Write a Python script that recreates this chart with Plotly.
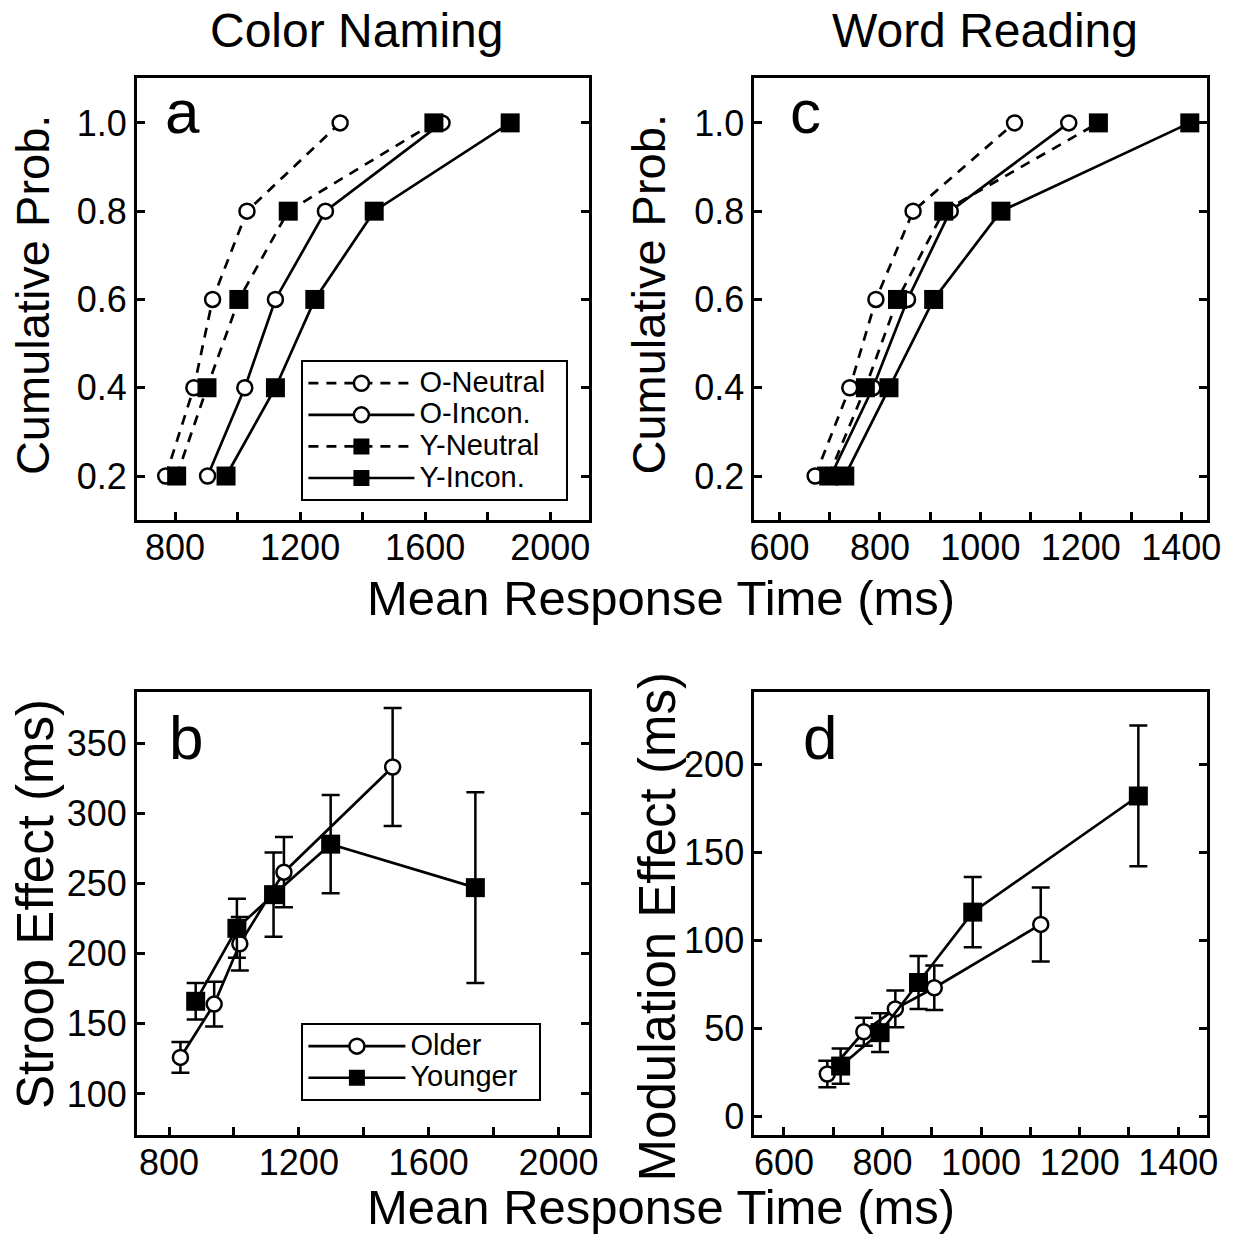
import plotly.graph_objects as go

# ---------------- data ----------------
probs = [0.2, 0.4, 0.6, 0.8, 1.0]

# Color naming (panel a): mean RT per quantile
cn_o_neutral = [770, 860, 920, 1030, 1328]
cn_o_incon = [904, 1023, 1121, 1281, 1654]
cn_y_neutral = [805, 902, 1004, 1162, 1628]
cn_y_incon = [963, 1121, 1247, 1437, 1872]

# Word reading (panel c)
wr_o_neutral = [671, 740, 792, 866, 1068]
wr_o_incon = [702, 786, 855, 940, 1176]
wr_y_neutral = [698, 771, 835, 927, 1235]
wr_y_incon = [730, 818, 907, 1041, 1417]

# Stroop effect (panel b)
stroop_older_rt = [835, 939, 1018, 1154, 1489]
stroop_older = [126, 164, 207, 258, 333]
stroop_older_err = [11, 16, 19, 25, 42]
stroop_younger_rt = [882, 1009, 1122, 1298, 1744]
stroop_younger = [166, 218, 242, 278, 247]
stroop_younger_err = [13, 21, 30, 35, 68]

# Modulation effect (panel d)
mod_older_rt = [688, 762, 826, 905, 1121]
mod_older = [24, 48, 61, 73, 109]
mod_older_err = [7.5, 8, 10.5, 12.7, 21]
mod_younger_rt = [715, 795, 873, 983, 1319]
mod_younger = [28.5, 47.5, 76, 116, 182]
mod_younger_err = [10, 11, 15, 20, 40]

# ---------------- styles ----------------
FONT = "Liberation Sans, Arial, Helvetica, sans-serif"
LW = 2.7
DASH = "10px,8px"
open_circle = dict(symbol="circle", size=15, color="white", line=dict(color="black", width=2.5))
filled_square = dict(symbol="square", size=19, color="black", line=dict(color="black", width=0))

FW, FH = 1244, 1241


def px(x):
    return x / FW


def py(y):
    return 1 - y / FH


def legname(t):
    return "<span style='font-size:29px'>" + t + "\u00a0\u00a0</span>"


fig = go.Figure()


def add_cdf(x, name, xa, ya, marker, dash, show):
    fig.add_trace(go.Scatter(
        x=x, y=probs, mode="lines+markers", name=legname(name),
        xaxis=xa, yaxis=ya, marker=marker,
        line=dict(color="black", width=LW, dash=dash),
        showlegend=show, legend="legend", cliponaxis=False))


# panel a
add_cdf(cn_o_neutral, "O-Neutral", "x", "y", open_circle, DASH, True)
add_cdf(cn_o_incon, "O-Incon.", "x", "y", open_circle, "solid", True)
add_cdf(cn_y_neutral, "Y-Neutral", "x", "y", filled_square, DASH, True)
add_cdf(cn_y_incon, "Y-Incon.", "x", "y", filled_square, "solid", True)
# panel c
add_cdf(wr_o_neutral, "O-Neutral", "x2", "y2", open_circle, DASH, False)
add_cdf(wr_o_incon, "O-Incon.", "x2", "y2", open_circle, "solid", False)
add_cdf(wr_y_neutral, "Y-Neutral", "x2", "y2", filled_square, DASH, False)
add_cdf(wr_y_incon, "Y-Incon.", "x2", "y2", filled_square, "solid", False)


def add_eff(x, y, err, name, xa, ya, marker, show):
    fig.add_trace(go.Scatter(
        x=x, y=y, mode="lines+markers", name=legname(name),
        xaxis=xa, yaxis=ya, marker=marker,
        line=dict(color="black", width=LW),
        error_y=dict(type="data", array=err, visible=True, color="black", thickness=2.5, width=9),
        showlegend=show, legend="legend2", cliponaxis=False))


add_eff(stroop_older_rt, stroop_older, stroop_older_err, "Older", "x3", "y3", open_circle, True)
add_eff(stroop_younger_rt, stroop_younger, stroop_younger_err, "Younger", "x3", "y3", filled_square, True)
add_eff(mod_older_rt, mod_older, mod_older_err, "Older", "x4", "y4", open_circle, False)
add_eff(mod_younger_rt, mod_younger, mod_younger_err, "Younger", "x4", "y4", filled_square, False)

# ---------------- axes ----------------
L_DOM = [px(134), px(593)]
R_DOM = [px(761), px(1220.5)]
T_DOM = [py(521), py(78)]
B_DOM = [py(1136.7), py(693.3)]

TICKFONT = dict(size=36, color="black", family=FONT)


def xaxis(dom, rng, anchor, tick0, dtick, mdtick):
    return dict(domain=dom, range=rng, anchor=anchor, showline=True, linewidth=3,
                linecolor="black", mirror=True, ticks="inside", ticklen=8, tickwidth=2.5,
                tickcolor="black", tick0=tick0, dtick=dtick, showgrid=False, zeroline=False,
                tickfont=TICKFONT, ticklabelstandoff=-6,
                minor=dict(ticks="inside", tick0=tick0, dtick=mdtick, ticklen=8,
                           tickwidth=2.5, tickcolor="black", showgrid=False),
                fixedrange=True)


def yaxis(dom, rng, anchor, tick0, dtick, fmt=None):
    d = dict(domain=dom, range=rng, anchor=anchor, showline=True, linewidth=3,
             linecolor="black", mirror="ticks", ticks="inside", ticklen=8, tickwidth=2.5,
             tickcolor="black", tick0=tick0, dtick=dtick, showgrid=False, zeroline=False,
             tickfont=TICKFONT, fixedrange=True)
    if fmt:
        d["tickformat"] = fmt
    return d


LEGFONT = dict(size=22, color="black", family=FONT)
fig.update_layout(
    width=FW, height=FH,
    margin=dict(l=0, r=0, t=0, b=0),
    paper_bgcolor="white", plot_bgcolor="white",
    font=dict(family=FONT, color="black"),
    xaxis=xaxis(L_DOM, [678, 2124], "y", 800, 400, 200),
    yaxis=yaxis(T_DOM, [0.1, 1.102], "x", 0.2, 0.2, ".1f"),
    xaxis2=xaxis(R_DOM, [550, 1451], "y2", 600, 200, 100),
    yaxis2=yaxis(T_DOM, [0.1, 1.102], "x2", 0.2, 0.2, ".1f"),
    xaxis3=xaxis(L_DOM, [701, 2094], "y3", 800, 400, 200),
    yaxis3=yaxis(B_DOM, [70.8, 386.3], "x3", 100, 50),
    xaxis4=xaxis(R_DOM, [540, 1458], "y4", 600, 200, 100),
    yaxis4=yaxis(B_DOM, [-10.6, 241], "x4", 0, 50),
    legend=dict(x=px(301), y=py(361), xanchor="left", yanchor="top",
                bordercolor="black", borderwidth=2, bgcolor="white",
                font=LEGFONT, itemwidth=106, tracegroupgap=0),
    legend2=dict(x=px(301), y=py(1025), xanchor="left", yanchor="top",
                 bordercolor="black", borderwidth=2, bgcolor="white",
                 font=LEGFONT, itemwidth=97, tracegroupgap=0),
)

ann = []
# column titles
for txt, xx in (("Color Naming", 357), ("Word Reading", 995)):
    ann.append(dict(text=txt, x=px(xx), y=py(31), xref="paper", yref="paper",
                    showarrow=False, font=dict(size=48), xanchor="center", yanchor="middle"))
# x titles
for yy in (599, 1209):
    ann.append(dict(text="Mean Response Time (ms)", x=px(666), y=py(yy), xref="paper",
                    yref="paper", showarrow=False, font=dict(size=49),
                    xanchor="center", yanchor="middle"))
# y titles
for txt, xx, yy, fs in (("Cumulative Prob.", 28, 295, 47), ("Cumulative Prob.", 654, 295, 47),
                        ("Stroop Effect (ms)", 31, 906, 51),
                        ("Modulation Effect (ms)", 663, 928, 51)):
    ann.append(dict(text=txt, x=px(xx), y=py(yy), xref="paper", yref="paper",
                    showarrow=False, font=dict(size=fs), textangle=-90,
                    xanchor="center", yanchor="middle"))
# panel letters
for txt, xx, yy in (("a", 160, 112), ("c", 795, 112), ("b", 165, 739), ("d", 808, 739)):
    ann.append(dict(text=txt, x=px(xx), y=py(yy), xref="paper", yref="paper",
                    showarrow=False, font=dict(size=62), xanchor="left", yanchor="middle"))
fig.update_layout(annotations=ann)

fig.write_html("out.html", config={"displayModeBar": False},
               post_script="document.body.style.margin='0px';")
